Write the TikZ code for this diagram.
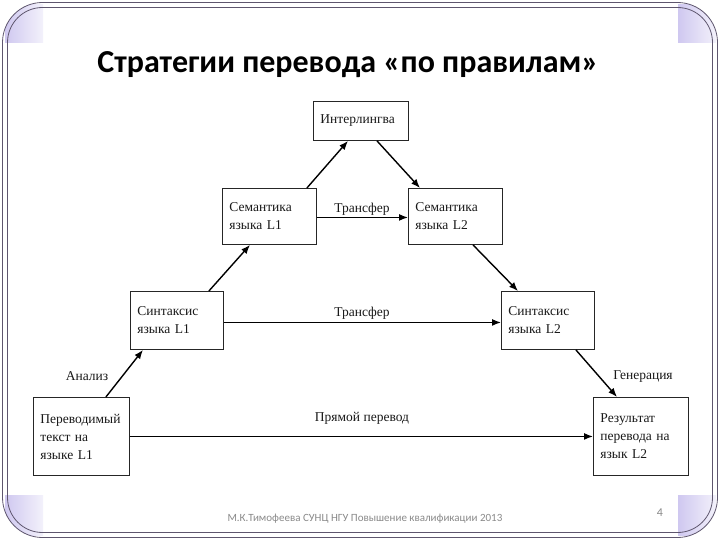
\documentclass[tikz,border=0pt]{standalone}
\usepackage{fontspec}
\setmainfont{Liberation Serif}
\newfontfamily\titlefont{Carlito}
\usetikzlibrary{arrows.meta,calc}
\definecolor{framecol}{HTML}{5E566E}
\definecolor{lavdark}{HTML}{CFC8F0}
\definecolor{lavlight}{HTML}{F3F1FB}
\definecolor{footgray}{HTML}{8A8A8A}
\tikzset{
  boxnode/.style={draw=black!85, line width=0.9pt, anchor=north west, inner xsep=7pt, inner ysep=2pt,
    align=left, font=\fontsize{13.5}{18}\selectfont, text=black!90},
  conn/.style={line width=1.4pt, -{Latex[length=9pt,width=7pt]}},
  lbl/.style={font=\fontsize{13.5}{15}\selectfont, text=black!90, inner sep=1pt},
  frameline/.style={draw=framecol, line width=0.8pt}
}
\begin{document}
\begin{tikzpicture}[x=1pt,y=-1pt]
\useasboundingbox (0,0) rectangle (720,540);
\fill[white] (0,0) rectangle (720,540);
% corner squares
\begin{scope}
\clip[rounded corners=40pt] (2.5,2.5) rectangle (717.5,537.5);
\shade[left color=lavdark, right color=lavlight] (5,5) rectangle (43,43);
\shade[left color=lavdark, right color=lavlight] (678,5) rectangle (716,43);
\shade[left color=lavdark, right color=lavlight] (5,495) rectangle (43,535);
\shade[left color=lavdark, right color=lavlight] (678,495) rectangle (716,535);
\end{scope}
\draw[frameline, rounded corners=40pt] (2.5,2.5) rectangle (717.5,537.5);
\draw[frameline, rounded corners=35pt] (7.5,7.5) rectangle (712.5,532.5);
% title
\node[font=\titlefont\bfseries\fontsize{32}{36}\selectfont, anchor=base] (title) at (348,73) {Стратегии перевода «по правилам»};
% boxes
\node[boxnode, minimum width=95pt, minimum height=39pt, text width=81pt] (inter) at (313,101) {Интерлингва};
\node[boxnode, minimum width=94pt, minimum height=56pt, text width=80pt] (sem1) at (222,188) {Семантика\\языка L1};
\node[boxnode, minimum width=94pt, minimum height=56pt, text width=80pt] (sem2) at (408,188) {Семантика\\языка L2};
\node[boxnode, minimum width=93pt, minimum height=58pt, text width=79pt] (syn1) at (130,291) {Синтаксис\\языка L1};
\node[boxnode, minimum width=93pt, minimum height=58pt, text width=79pt] (syn2) at (501,291) {Синтаксис\\языка L2};
\node[boxnode, minimum width=96pt, minimum height=78pt, text width=82pt] (src) at (33,397) {Переводимый\\текст на\\языке L1};
\node[boxnode, minimum width=95pt, minimum height=78pt, text width=81pt] (res) at (593,397) {Результат\\перевода на\\язык L2};
% connectors
\draw[conn] ($(sem1.north east)+(-10,0)$) -- ($(inter.south west)+(35,0)$);
\draw[conn] ($(inter.south west)+(64,0)$) -- ($(sem2.north west)+(12,0)$);
\draw[conn] ($(syn1.north east)+(-15,0)$) -- ($(sem1.south west)+(28,0)$);
\draw[conn] ($(sem2.south west)+(65,0)$) -- ($(syn2.north west)+(17,0)$);
\draw[conn] ($(src.north east)+(-24,0)$) -- ($(syn1.south west)+(13,0)$);
\draw[conn] ($(syn2.south east)+(-19,0)$) -- ($(res.north west)+(24,0)$);
\draw[conn] ($(sem1.east)+(0,1)$) -- ($(sem2.west)+(0,1)$);
\draw[conn] ($(syn1.east)+(0,2)$) -- ($(syn2.west)+(0,2)$);
\draw[conn] (src.east) -- (res.west);
% labels
\node[lbl] (t1) at (362,209) {Трансфер};
\node[lbl] (t2) at (362,313) {Трансфер};
\node[lbl] (t3) at (362,418) {Прямой перевод};
\node[lbl] (an) at (87,376) {Анализ};
\node[lbl] (gen) at (643,377) {Генерация};
% footer
\node[font=\titlefont\fontsize{11}{13}\selectfont, text=footgray, anchor=west] (foot) at (224,519) {М.К.Тимофеева СУНЦ НГУ Повышение квалификации 2013};
\node[font=\titlefont\fontsize{12}{14}\selectfont, text=footgray] (pg) at (660,513) {4};
\end{tikzpicture}
\end{document}
